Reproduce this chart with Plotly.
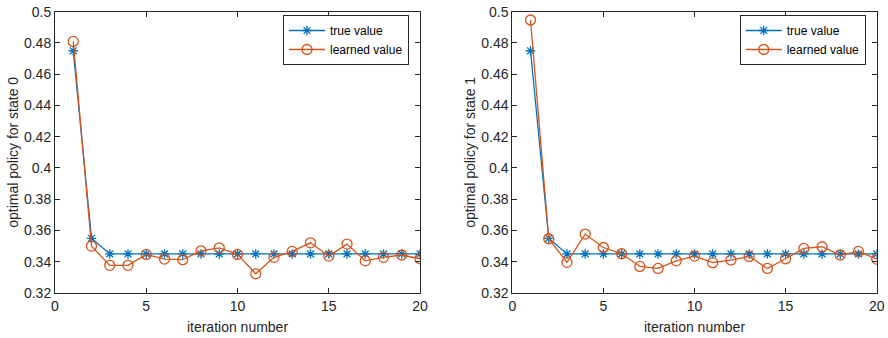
import plotly.graph_objects as go

iterations = list(range(1, 21))
true_state0 = [0.475, 0.355] + [0.345] * 18
learned_state0 = [0.481, 0.350, 0.3377, 0.3377, 0.3447, 0.3417, 0.3413, 0.347, 0.3489, 0.3447,
                  0.3323, 0.3428, 0.3466, 0.3521, 0.3436, 0.3513, 0.3406, 0.3428, 0.3443, 0.3419]
true_state1 = [0.475, 0.355] + [0.345] * 18
learned_state1 = [0.4947, 0.3547, 0.3396, 0.3577, 0.3491, 0.3451, 0.337, 0.3357, 0.3406, 0.3436,
                  0.3394, 0.3411, 0.3434, 0.3357, 0.3419, 0.3485, 0.3496, 0.3443, 0.3466, 0.3417]
x_ticks = [0, 5, 10, 15, 20]
y_ticks = [0.32, 0.34, 0.36, 0.38, 0.40, 0.42, 0.44, 0.46, 0.48, 0.50]
y_ticklabels = ["0.32", "0.34", "0.36", "0.38", "0.4", "0.42", "0.44", "0.46", "0.48", "0.5"]

BLUE = "#0072BD"
ORANGE = "#D95319"
AX = "#262626"
FONT = "Liberation Sans, Arial, Helvetica, sans-serif"

fig = go.Figure()

panels = [
    (true_state0, learned_state0, "x", "y", "legend"),
    (true_state1, learned_state1, "x2", "y2", "legend2"),
]
for tv, lv, xa, ya, lg in panels:
    fig.add_trace(go.Scatter(
        x=iterations, y=tv, mode="lines+markers", name="true value",
        xaxis=xa, yaxis=ya, legend=lg,
        line=dict(color=BLUE, width=1.3),
        marker=dict(symbol="asterisk-open", size=8, color=BLUE, line=dict(color=BLUE, width=1.3)),
    ))
    fig.add_trace(go.Scatter(
        x=iterations, y=lv, mode="lines+markers", name="learned value",
        xaxis=xa, yaxis=ya, legend=lg,
        line=dict(color=ORANGE, width=1.3),
        marker=dict(symbol="circle-open", size=10, color=ORANGE, line=dict(color=ORANGE, width=1.3)),
    ))

ybot = 1 - 293 / 338
ytop = 1 - 11.7 / 338

def xaxis_cfg(domain, anchor):
    return dict(
        domain=domain, anchor=anchor, range=[0, 20], tickvals=x_ticks,
        showline=True, linecolor=AX, linewidth=1, mirror="allticks",
        ticks="inside", ticklen=5, tickcolor=AX, showgrid=False, zeroline=False,
        automargin=False,
        tickfont=dict(family=FONT, size=14, color=AX),
        title=dict(text="iteration number", font=dict(family=FONT, size=14, color=AX), standoff=9),
    )

def yaxis_cfg(anchor, title):
    return dict(
        domain=[ybot, ytop], anchor=anchor, range=[0.32, 0.5],
        tickvals=y_ticks, ticktext=y_ticklabels,
        showline=True, linecolor=AX, linewidth=1, mirror="allticks",
        ticks="inside", ticklen=5, tickcolor=AX, showgrid=False, zeroline=False,
        automargin=False,
        tickfont=dict(family=FONT, size=14, color=AX),
        title=dict(text=title, font=dict(family=FONT, size=14, color=AX), standoff=2),
    )

legend_common = dict(
    bgcolor="white", bordercolor=AX, borderwidth=1,
    font=dict(family=FONT, size=12, color="black"),
    xanchor="right", yanchor="top", tracegroupgap=0,
    itemwidth=36,
)

fig.update_layout(
    width=888, height=338,
    margin=dict(l=0, r=0, t=0, b=0, autoexpand=False),
    paper_bgcolor="white", plot_bgcolor="white",
    xaxis=xaxis_cfg([55 / 888, 420 / 888], "y"),
    yaxis=yaxis_cfg("x", "optimal policy for state 0"),
    xaxis2=xaxis_cfg([512.3 / 888, 876.7 / 888], "y2"),
    yaxis2=yaxis_cfg("x2", "optimal policy for state 1"),
    legend=dict(x=409 / 888, y=1 - 15 / 338, **legend_common),
    legend2=dict(x=865.7 / 888, y=1 - 15 / 338, **legend_common),
)

fig.write_html("out.html")
